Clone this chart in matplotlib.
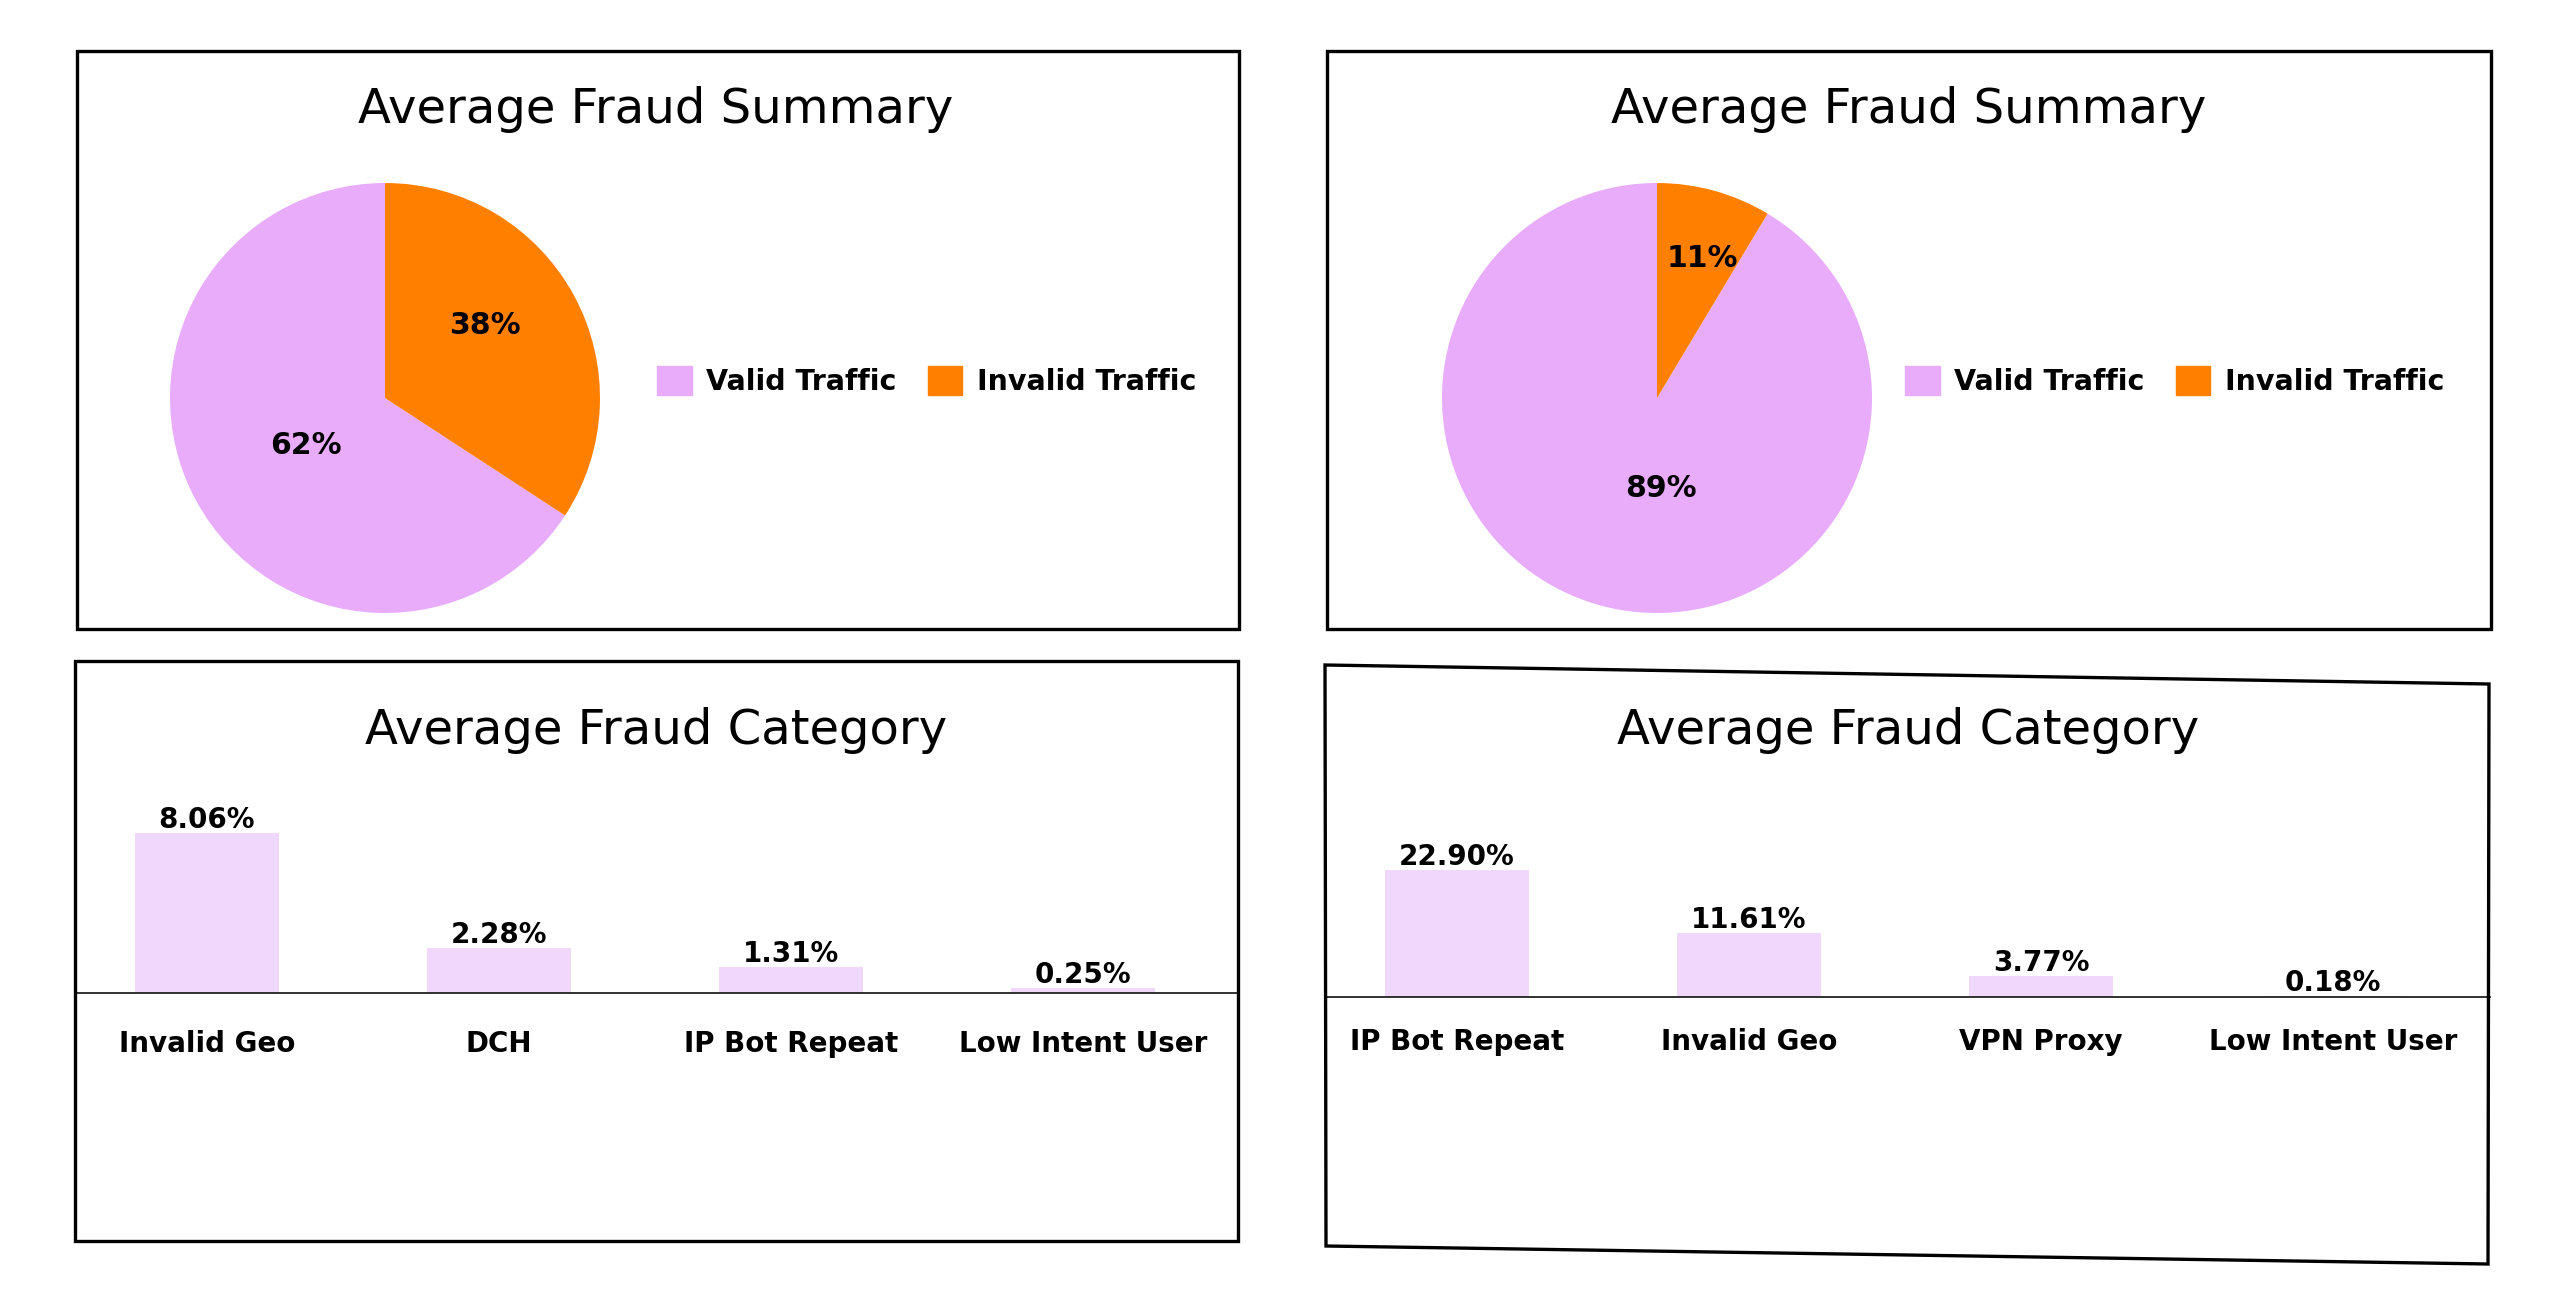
import matplotlib
matplotlib.use("Agg")
import matplotlib.pyplot as plt
from matplotlib.patches import Polygon

# Données des camemberts (parts)
traffic_labels = ['Valid Traffic', 'Invalid Traffic']
left_shares = [65.8, 34.2]
left_pct_text = ['62%', '38%']
right_shares = [91.4, 8.6]
right_pct_text = ['89%', '11%']

# Données des barres
left_categories = ['Invalid Geo', 'DCH', 'IP Bot Repeat', 'Low Intent User']
left_values = [8.06, 2.28, 1.31, 0.25]
right_categories = ['IP Bot Repeat', 'Invalid Geo', 'VPN Proxy', 'Low Intent User']
right_values = [22.90, 11.61, 3.77, 0.18]

W, H = 2560, 1304
VALID = '#e8acfb'
INVALID = '#ff8000'
BAR = '#f0d7fb'

plt.rcParams['font.family'] = ['DejaVu Sans']

fig = plt.figure(figsize=(W / 100, H / 100), dpi=100)
fig.patch.set_facecolor('white')


def fr(x0, y0, x1, y1):
    # rectangle en pixels -> coordonnées figure
    return [x0 / W, 1 - y1 / H, (x1 - x0) / W, (y1 - y0) / H]


def cadre(points):
    pts = [(x / W, 1 - y / H) for x, y in points]
    fig.add_artist(Polygon(pts, closed=True, fill=False, edgecolor='black',
                           linewidth=2.4, transform=fig.transFigure))


def titre(texte, x, y):
    fig.text(x / W, 1 - y / H, texte, ha='center', va='baseline',
             fontsize=34.7, color='black')


def camembert(cx, cy, shares, pct_text, label_pos, legend_x):
    r = 215
    ax = fig.add_axes(fr(cx - r, cy - r, cx + r, cy + r))
    ax.pie(shares, colors=[VALID, INVALID], startangle=90, radius=1,
           wedgeprops=dict(linewidth=0))
    ax.set_xlim(-1, 1)
    ax.set_ylim(-1, 1)
    for txt, (dx, dy) in zip(pct_text, label_pos):
        ax.text(dx, dy, txt, ha='center', va='center', fontsize=21.5,
                fontweight='bold', color='black')
    handles = [plt.Rectangle((0, 0), 1, 1, color=c) for c in [VALID, INVALID]]
    fig.legend(handles, traffic_labels, loc='center left',
               bbox_to_anchor=(legend_x / W, 1 - 381 / H), ncol=2,
               frameon=False, borderpad=0, borderaxespad=0,
               prop=dict(size=20.5, weight='bold'),
               handlelength=1.22, handleheight=1.22, handletextpad=0.5,
               columnspacing=1.1)


def barres(x0, x1, base_y, px_per_unit, first_center, categories, values, pad):
    step = 292
    top_y = 780
    ax = fig.add_axes(fr(x0, top_y, x1, base_y))
    pos = list(range(len(values)))
    bars = ax.bar(pos, values, width=0.49, color=BAR, zorder=1)
    ax.bar_label(bars, labels=[f'{v:.2f}%' for v in values], padding=-1,
                 fontsize=20, fontweight='bold', color='black')
    ax.set_xlim((x0 - first_center) / step, (x1 - first_center) / step)
    ax.set_ylim(0, (base_y - top_y) / px_per_unit)
    for s in ['top', 'left', 'right']:
        ax.spines[s].set_visible(False)
    ax.spines['bottom'].set_linewidth(1.3)
    ax.spines['bottom'].set_color('#222222')
    ax.spines['bottom'].set_zorder(3)
    ax.set_yticks([])
    ax.set_xticks(pos)
    ax.set_xticklabels(categories, fontsize=20, fontweight='bold')
    ax.tick_params(axis='x', length=0, pad=pad)
    ax.patch.set_alpha(0)


# Cadres
cadre([(77, 51), (1239, 51), (1239, 629), (77, 629)])
cadre([(1327, 51), (2491, 51), (2491, 629), (1327, 629)])
cadre([(75, 661), (1238, 661), (1238, 1241), (75, 1241)])
cadre([(1325, 665), (2489, 684), (2488, 1264), (1326, 1246)])

# Titres
titre('Average Fraud Summary', 656, 123)
titre('Average Fraud Summary', 1909, 123)
titre('Average Fraud Category', 656, 744)
titre('Average Fraud Category', 1908, 744)

# Camemberts
camembert(385, 398, left_shares, left_pct_text,
          [(-0.37, -0.22), (0.465, 0.335)], 657)
camembert(1657, 398, right_shares, right_pct_text,
          [(0.02, -0.42), (0.21, 0.65)], 1905)

# Barres
barres(75, 1238, 993, 19.85, 207, left_categories, left_values, 27)
barres(1326, 2490, 997, 5.55, 1457, right_categories, right_values, 22)

fig.savefig('out.png', dpi=100, facecolor='white')
